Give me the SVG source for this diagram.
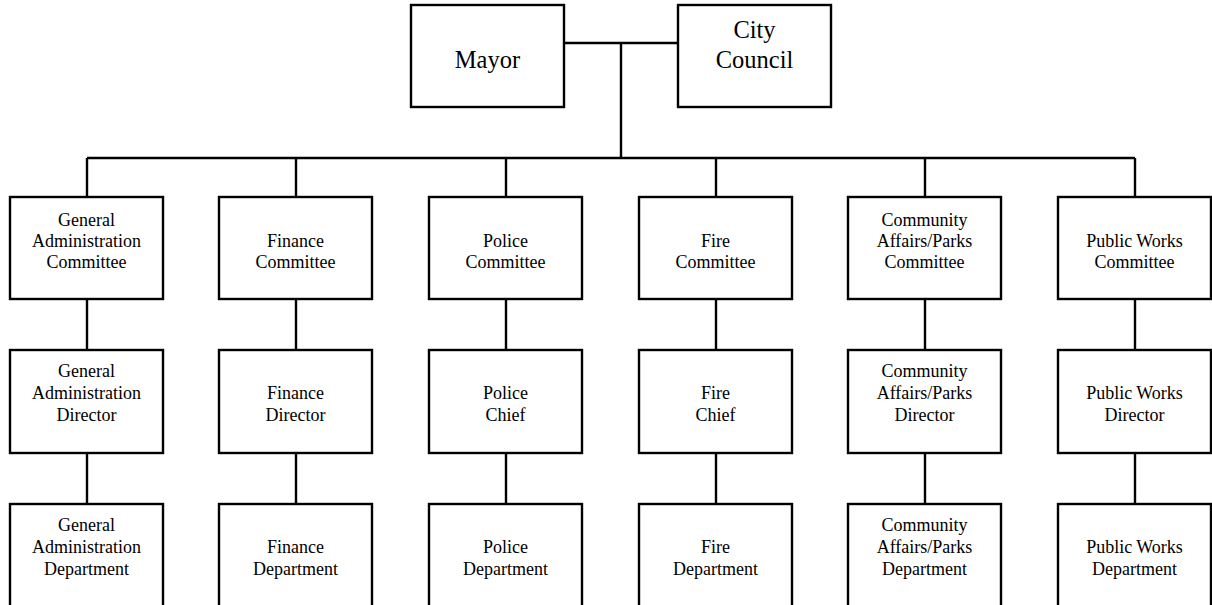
<svg xmlns="http://www.w3.org/2000/svg" width="1212" height="605" viewBox="0 0 1212 605">
<style>
.box{fill:#fff;stroke:#000;stroke-width:2.4}
.ln{fill:none;stroke:#000;stroke-width:2.4}
text{font-family:"Liberation Serif","Times New Roman",serif;fill:#000;text-anchor:middle}
.s{font-size:18px}
.b{font-size:24.5px}
</style>
<rect width="1212" height="605" fill="#fff"/>
<g id="connectors">
<path class="ln" d="M564 43H678M621 43V158M87 158H1135"/>
<path class="ln" d="M87 158V197M296 158V197M506 158V197M716 158V197M925 158V197M1135 158V197"/>
<path class="ln" d="M87 299V350M296 299V350M506 299V350M716 299V350M925 299V350M1135 299V350"/>
<path class="ln" d="M87 453V504M296 453V504M506 453V504M716 453V504M925 453V504M1135 453V504"/>
</g>
<g id="mayor"><rect class="box" x="411" y="5" width="153" height="102"/><text class="b" x="487.5" y="68">Mayor</text></g>
<g id="council"><rect class="box" x="678" y="5" width="153" height="102"/><text class="b" x="754.5" y="38">City</text><text class="b" x="754.5" y="68">Council</text></g>

<g id="ga-committee"><rect class="box" x="10" y="197" width="153" height="102"/><text class="s" x="86.5" y="226">General</text><text class="s" x="86.5" y="247">Administration</text><text class="s" x="86.5" y="268">Committee</text></g>
<g id="fin-committee"><rect class="box" x="219" y="197" width="153" height="102"/><text class="s" x="295.5" y="247">Finance</text><text class="s" x="295.5" y="268">Committee</text></g>
<g id="pol-committee"><rect class="box" x="429" y="197" width="153" height="102"/><text class="s" x="505.5" y="247">Police</text><text class="s" x="505.5" y="268">Committee</text></g>
<g id="fire-committee"><rect class="box" x="639" y="197" width="153" height="102"/><text class="s" x="715.5" y="247">Fire</text><text class="s" x="715.5" y="268">Committee</text></g>
<g id="cap-committee"><rect class="box" x="848" y="197" width="153" height="102"/><text class="s" x="924.5" y="226">Community</text><text class="s" x="924.5" y="247">Affairs/Parks</text><text class="s" x="924.5" y="268">Committee</text></g>
<g id="pw-committee"><rect class="box" x="1058" y="197" width="153" height="102"/><text class="s" x="1134.5" y="247">Public Works</text><text class="s" x="1134.5" y="268">Committee</text></g>

<g id="ga-director"><rect class="box" x="10" y="350" width="153" height="103"/><text class="s" x="86.5" y="377">General</text><text class="s" x="86.5" y="399">Administration</text><text class="s" x="86.5" y="421">Director</text></g>
<g id="fin-director"><rect class="box" x="219" y="350" width="153" height="103"/><text class="s" x="295.5" y="399">Finance</text><text class="s" x="295.5" y="421">Director</text></g>
<g id="pol-chief"><rect class="box" x="429" y="350" width="153" height="103"/><text class="s" x="505.5" y="399">Police</text><text class="s" x="505.5" y="421">Chief</text></g>
<g id="fire-chief"><rect class="box" x="639" y="350" width="153" height="103"/><text class="s" x="715.5" y="399">Fire</text><text class="s" x="715.5" y="421">Chief</text></g>
<g id="cap-director"><rect class="box" x="848" y="350" width="153" height="103"/><text class="s" x="924.5" y="377">Community</text><text class="s" x="924.5" y="399">Affairs/Parks</text><text class="s" x="924.5" y="421">Director</text></g>
<g id="pw-director"><rect class="box" x="1058" y="350" width="153" height="103"/><text class="s" x="1134.5" y="399">Public Works</text><text class="s" x="1134.5" y="421">Director</text></g>

<g id="ga-dept"><rect class="box" x="10" y="504" width="153" height="104"/><text class="s" x="86.5" y="531">General</text><text class="s" x="86.5" y="553">Administration</text><text class="s" x="86.5" y="575">Department</text></g>
<g id="fin-dept"><rect class="box" x="219" y="504" width="153" height="104"/><text class="s" x="295.5" y="553">Finance</text><text class="s" x="295.5" y="575">Department</text></g>
<g id="pol-dept"><rect class="box" x="429" y="504" width="153" height="104"/><text class="s" x="505.5" y="553">Police</text><text class="s" x="505.5" y="575">Department</text></g>
<g id="fire-dept"><rect class="box" x="639" y="504" width="153" height="104"/><text class="s" x="715.5" y="553">Fire</text><text class="s" x="715.5" y="575">Department</text></g>
<g id="cap-dept"><rect class="box" x="848" y="504" width="153" height="104"/><text class="s" x="924.5" y="531">Community</text><text class="s" x="924.5" y="553">Affairs/Parks</text><text class="s" x="924.5" y="575">Department</text></g>
<g id="pw-dept"><rect class="box" x="1058" y="504" width="153" height="104"/><text class="s" x="1134.5" y="553">Public Works</text><text class="s" x="1134.5" y="575">Department</text></g>
</svg>
